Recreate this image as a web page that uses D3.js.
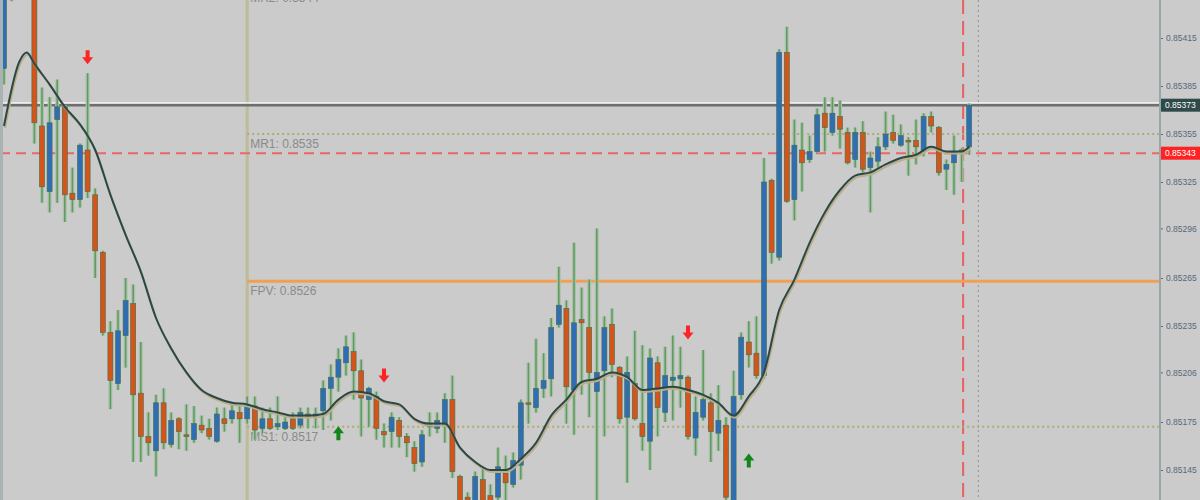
<!DOCTYPE html>
<html>
<head>
<meta charset="utf-8">
<script src="https://cdn.jsdelivr.net/npm/d3@7"></script>
<style>
  html, body { margin: 0; padding: 0; background: #cbcbcb; }
  svg { display: block; }
</style>
</head>
<body>
<svg id="chart" width="1200" height="500"></svg>
<script>
// candles (prices)
var opens  = [0.85396,0.85442,0.85460,0.85455,0.85448,0.85360,0.85319,0.85364,0.85372,0.85318,
              0.85314,0.85345,0.85317,0.85281,0.85231,0.85199,0.85229,0.85249,0.85193,0.85166,
              0.85157,0.85187,0.85161,0.85177,0.85167,0.85164,0.85173,0.85171,0.85163,0.85177,
              0.85177,0.85181,0.85177,0.85185,0.85171,0.85177,0.85172,0.85171,0.85177,0.85173,
              0.85180,0.85178,0.85182,0.85196,0.85203,0.85212,0.85219,0.85207,0.85189,0.85191,
              0.85169,0.85169,0.85176,0.85166,0.85159,0.85150,0.85172,0.85171,0.85173,0.85189,
              0.85141,0.85128,0.85123,0.85139,0.85129,0.85128,0.85143,0.85136,0.85148,0.85187,
              0.85184,0.85196,0.85202,0.85236,0.85246,0.85195,0.85239,0.85234,0.85194,0.85207,
              0.85236,0.85209,0.85178,0.85199,0.85174,0.85163,0.85212,0.85181,0.85201,0.85202,
              0.85203,0.85165,0.85178,0.85187,0.85168,0.85173,0.85123,0.85192,0.85225,0.85218,
              0.85204,0.85326,0.85278,0.85406,0.85314,0.85345,0.85339,0.85344,0.85368,0.85356,
              0.85366,0.85356,0.85339,0.85356,0.85334,0.85338,0.85347,0.85356,0.85348,0.85351,
              0.85351,0.85344,0.85366,0.85359,0.85333,0.85337,0.85345,0.85347];
var highs  = [0.85445,0.85465,0.85470,0.85462,0.85452,0.85384,0.85378,0.85389,0.85373,0.85334,
              0.85349,0.85393,0.85321,0.85282,0.85238,0.85245,0.85265,0.85261,0.85225,0.85181,
              0.85192,0.85196,0.85181,0.85178,0.85186,0.85185,0.85179,0.85177,0.85184,0.85184,
              0.85186,0.85185,0.85191,0.85191,0.85184,0.85184,0.85191,0.85178,0.85181,0.85184,
              0.85184,0.85184,0.85201,0.85211,0.85221,0.85229,0.85231,0.85214,0.85197,0.85194,
              0.85174,0.85181,0.85178,0.85168,0.85163,0.85170,0.85181,0.85181,0.85193,0.85204,
              0.85142,0.85131,0.85144,0.85147,0.85136,0.85159,0.85154,0.85156,0.85189,0.85212,
              0.85227,0.85218,0.85240,0.85272,0.85251,0.85287,0.85259,0.85264,0.85296,0.85241,
              0.85246,0.85210,0.85216,0.85232,0.85223,0.85221,0.85216,0.85222,0.85229,0.85222,
              0.85204,0.85191,0.85220,0.85193,0.85198,0.85178,0.85207,0.85231,0.85238,0.85241,
              0.85340,0.85327,0.85408,0.85422,0.85364,0.85362,0.85354,0.85371,0.85378,0.85378,
              0.85376,0.85359,0.85359,0.85363,0.85344,0.85353,0.85369,0.85367,0.85361,0.85353,
              0.85364,0.85368,0.85369,0.85360,0.85339,0.85354,0.85346,0.85374];
var lows   = [0.85386,0.85438,0.85445,0.85442,0.85349,0.85312,0.85306,0.85312,0.85300,0.85306,
              0.85309,0.85315,0.85265,0.85229,0.85183,0.85195,0.85209,0.85150,0.85150,0.85154,
              0.85141,0.85158,0.85159,0.85158,0.85157,0.85162,0.85168,0.85164,0.85162,0.85169,
              0.85174,0.85162,0.85174,0.85164,0.85168,0.85170,0.85170,0.85170,0.85170,0.85171,
              0.85171,0.85171,0.85170,0.85176,0.85194,0.85204,0.85189,0.85166,0.85172,0.85164,
              0.85159,0.85159,0.85159,0.85153,0.85144,0.85147,0.85166,0.85168,0.85162,0.85140,
              0.85123,0.85115,0.85121,0.85121,0.85120,0.85123,0.85126,0.85134,0.85139,0.85174,
              0.85181,0.85190,0.85191,0.85234,0.85174,0.85167,0.85192,0.85178,0.85126,0.85166,
              0.85203,0.85174,0.85137,0.85176,0.85157,0.85145,0.85166,0.85175,0.85176,0.85184,
              0.85164,0.85154,0.85176,0.85150,0.85157,0.85126,0.85121,0.85189,0.85209,0.85202,
              0.85202,0.85274,0.85276,0.85312,0.85301,0.85319,0.85337,0.85343,0.85344,0.85354,
              0.85346,0.85336,0.85334,0.85331,0.85306,0.85334,0.85345,0.85349,0.85347,0.85329,
              0.85336,0.85341,0.85356,0.85329,0.85320,0.85317,0.85325,0.85342];
var closes = [0.85442,0.85460,0.85455,0.85448,0.85362,0.85322,0.85362,0.85372,0.85317,0.85314,
              0.85348,0.85319,0.85282,0.85231,0.85201,0.85232,0.85251,0.85192,0.85166,0.85162,
              0.85187,0.85162,0.85176,0.85169,0.85166,0.85174,0.85170,0.85166,0.85180,0.85174,
              0.85182,0.85177,0.85186,0.85170,0.85177,0.85171,0.85174,0.85175,0.85171,0.85181,
              0.85178,0.85180,0.85196,0.85203,0.85214,0.85222,0.85207,0.85190,0.85196,0.85171,
              0.85167,0.85178,0.85166,0.85162,0.85149,0.85167,0.85174,0.85176,0.85189,0.85144,
              0.85126,0.85120,0.85141,0.85123,0.85123,0.85147,0.85137,0.85151,0.85187,0.85186,
              0.85196,0.85201,0.85234,0.85248,0.85197,0.85237,0.85237,0.85206,0.85206,0.85234,
              0.85211,0.85177,0.85206,0.85177,0.85166,0.85215,0.85184,0.85204,0.85203,0.85204,
              0.85166,0.85181,0.85189,0.85169,0.85176,0.85128,0.85191,0.85228,0.85217,0.85204,
              0.85325,0.85281,0.85406,0.85313,0.85348,0.85337,0.85344,0.85367,0.85359,0.85368,
              0.85358,0.85337,0.85356,0.85333,0.85340,0.85347,0.85355,0.85351,0.85354,0.85350,
              0.85347,0.85366,0.85360,0.85331,0.85336,0.85344,0.85344,0.85373];

// moving average, read every second bar (plus the peak)
var maIdx = [0,2,3,4,6,8,10,12,14,16,18,20,22,24,26,28,30,32,34,36,38,40,42,44,46,48,50,52,54,56,58,
             60,62,64,66,68,70,72,74,76,78,80,82,84,86,88,90,92,94,96,98,100,102,104,106,108,110,
             112,114,116,118,120,122,124,126,127];
var maVal = [0.85360,0.85400,0.85406,0.85399,0.85386,0.85372,0.85361,0.85345,0.85317,0.85292,0.85269,
             0.85240,0.85221,0.85206,0.85195,0.85190,0.85187,0.85186,0.85183,0.85181,0.85179,
             0.85179,0.85180,0.85189,0.85194,0.85193,0.85188,0.85186,0.85177,0.85174,0.85174,
             0.85159,0.85150,0.85145,0.85145,0.85152,0.85162,0.85179,0.85189,0.85200,0.85202,
             0.85206,0.85203,0.85195,0.85196,0.85197,0.85195,0.85192,0.85187,0.85179,0.85191,
             0.85206,0.85245,0.85264,0.85287,0.85306,0.85320,0.85329,0.85331,0.85336,0.85340,
             0.85342,0.85347,0.85344,0.85344,0.85347];

// signal arrows
var sigIdx   = [11, 44, 50, 90, 98];
var sigPrice = [0.85403, 0.85168, 0.85204, 0.85231, 0.85151];
var sigDir   = ["down", "up", "down", "down", "up"];

// pivot levels
var pivotNames  = ["MR2", "MR1", "FPV", "MS1"];
var pivotLevels = [0.85446, 0.85355, 0.85263, 0.85172];
var pivotStart  = 32;   // bar where the day starts

var bidPrice = 0.85373;
var redLevel = 0.85343;
var axisTicks = [0.85415, 0.85385, 0.85355, 0.85325, 0.85296, 0.85265, 0.85235, 0.85206, 0.85175, 0.85145];

var svg = d3.select("#chart");
var W = 1200, H = 500, plotR = 1160;

var x = d3.scaleLinear().domain([0, 127]).range([4, 969.2]);
var y = d3.scaleLinear().domain([0.85145, 0.85415]).range([470, 38]);

svg.append("rect").attr("width", W).attr("height", H).attr("fill", "#cbcbcb");
svg.append("defs").append("clipPath").attr("id", "plot")
  .append("rect").attr("x", 0).attr("y", 0).attr("width", plotR).attr("height", H);

var g = svg.append("g").attr("clip-path", "url(#plot)");

// day start separator
g.append("line")
  .attr("x1", x(pivotStart)).attr("x2", x(pivotStart)).attr("y1", 0).attr("y2", H)
  .attr("stroke", "#bcbc98").attr("stroke-width", 3);

// current bar markers
g.append("line")
  .attr("x1", x(126.2)).attr("x2", x(126.2)).attr("y1", 0).attr("y2", H)
  .attr("stroke", "#e86060").attr("stroke-width", 2).attr("stroke-dasharray", "14,7");
g.append("line")
  .attr("x1", x(128.2)).attr("x2", x(128.2)).attr("y1", 0).attr("y2", H)
  .attr("stroke", "#8c9494").attr("stroke-width", 1).attr("stroke-dasharray", "2,3");

// pivot lines
pivotNames.forEach(function(n, i) {
  var py = y(pivotLevels[i]);
  var ln = g.append("line")
    .attr("x1", x(pivotStart)).attr("x2", plotR).attr("y1", py).attr("y2", py);
  if (n == "FPV") {
    ln.attr("stroke", "#f0a050").attr("stroke-width", 3);
  } else {
    ln.attr("stroke", "#b0ac70").attr("stroke-width", 2).attr("stroke-dasharray", "2,3");
  }
  g.append("text")
    .attr("x", x(pivotStart) + 3).attr("y", py + 14)
    .attr("font-family", "Liberation Sans, Arial, sans-serif").attr("font-size", 12)
    .attr("fill", "#8a8a8a")
    .text(n + ": " + (Math.floor(pivotLevels[i] * 1e4 + 1e-6) / 1e4).toFixed(4));
});

// bid line
g.append("line").attr("x1", 0).attr("x2", plotR).attr("y1", y(bidPrice) - 2.5).attr("y2", y(bidPrice) - 2.5)
  .attr("stroke", "#ececec").attr("stroke-width", 1.5);
g.append("line").attr("x1", 0).attr("x2", plotR).attr("y1", y(bidPrice)).attr("y2", y(bidPrice))
  .attr("stroke", "#6e6e6e").attr("stroke-width", 2.5);

// red dashed level
g.append("line").attr("x1", 0).attr("x2", plotR).attr("y1", y(redLevel)).attr("y2", y(redLevel))
  .attr("stroke", "#e86868").attr("stroke-width", 2).attr("stroke-dasharray", "10,6");

// candles
var bars = d3.range(opens.length);
var cg = g.append("g");
cg.selectAll(".halo").data(bars).enter().append("line")
  .attr("x1", function(i){ return x(i); }).attr("x2", function(i){ return x(i); })
  .attr("y1", function(i){ return y(highs[i]); }).attr("y2", function(i){ return y(lows[i]); })
  .attr("stroke", "#a9c2a9").attr("stroke-width", 4);
cg.selectAll(".wick").data(bars).enter().append("line")
  .attr("x1", function(i){ return x(i); }).attr("x2", function(i){ return x(i); })
  .attr("y1", function(i){ return y(highs[i]); }).attr("y2", function(i){ return y(lows[i]); })
  .attr("stroke", "#5f9a5f").attr("stroke-width", 1.5);
cg.selectAll(".body").data(bars).enter().append("rect")
  .attr("x", function(i){ return x(i) - 2.5; })
  .attr("width", 5)
  .attr("y", function(i){ return y(Math.max(opens[i], closes[i])); })
  .attr("height", function(i){ return Math.max(1.5, Math.abs(y(opens[i]) - y(closes[i]))); })
  .attr("fill", function(i){ return closes[i] >= opens[i] ? "#2f6db4" : "#d4541a"; })
  .attr("stroke", "#3f6f4a").attr("stroke-width", 0.6);

// moving averages
var maLine = d3.line()
  .x(function(d, k){ return x(maIdx[k]); })
  .y(function(d){ return y(d); })
  .curve(d3.curveMonotoneX);
g.append("path").datum(maVal).attr("d", maLine)
  .attr("transform", "translate(1,2)")
  .attr("fill", "none").attr("stroke", "#bcae86").attr("stroke-width", 2);
g.append("path").datum(maVal).attr("d", maLine)
  .attr("fill", "none").attr("stroke", "#2b4848").attr("stroke-width", 2);

// arrows
var downArrow = "M-2,-7 L2,-7 L2,0 L5.5,0 L0,7 L-5.5,0 L-2,0 Z";
var upArrow = "M-2,7 L2,7 L2,0 L5.5,0 L0,-7 L-5.5,0 L-2,0 Z";
g.selectAll(".sig").data(sigIdx).enter().append("path")
  .attr("transform", function(d, k){ return "translate(" + x(d) + "," + y(sigPrice[k]) + ")"; })
  .attr("d", function(d, k){ return sigDir[k] == "down" ? downArrow : upArrow; })
  .attr("fill", function(d, k){ return sigDir[k] == "down" ? "#ff2424" : "#12861a"; });

// left border strip
svg.append("rect").attr("x", 0).attr("y", 0).attr("width", 3).attr("height", H).attr("fill", "#a9b3b3");

// price axis
var axis = svg.append("g").attr("transform", "translate(" + plotR + ",0)")
  .call(d3.axisRight(y).tickValues(axisTicks).tickSize(3).tickPadding(3).tickFormat(d3.format(".5f")));
axis.select(".domain").remove();
axis.selectAll(".tick line").attr("stroke", "#5a6a7a");
axis.selectAll(".tick text")
  .attr("font-family", "Liberation Sans, Arial, sans-serif").attr("font-size", 8.5)
  .attr("fill", "#56687a");
svg.append("line").attr("x1", plotR).attr("x2", plotR).attr("y1", 0).attr("y2", H)
  .attr("stroke", "#97a6a6").attr("stroke-width", 2);

// price boxes
function priceBox(p, bg) {
  var by = y(p);
  svg.append("rect").attr("x", plotR + 1).attr("y", by - 6.5).attr("width", W - plotR - 1).attr("height", 13)
    .attr("fill", bg);
  svg.append("text").attr("x", plotR + 5).attr("y", by + 3)
    .attr("font-family", "Liberation Sans, Arial, sans-serif").attr("font-size", 8.5)
    .attr("fill", "#ffffff").text(p.toFixed(5));
}
priceBox(bidPrice, "#2f4a4a");
priceBox(redLevel, "#ff2222");
</script>
</body>
</html>
